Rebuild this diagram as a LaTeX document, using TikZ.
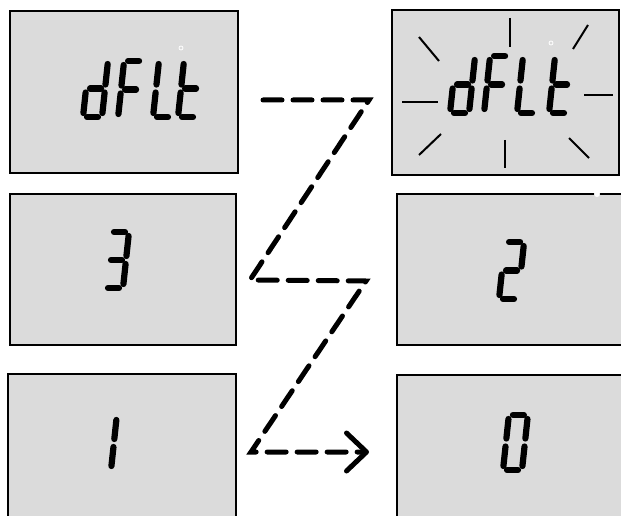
\documentclass[tikz,border=0pt]{standalone}
\usepackage{tikz}
\usepackage{xcolor}
\definecolor{lcdgray}{rgb}{0.86,0.86,0.86}
\usetikzlibrary{arrows.meta}

\tikzset{
  lcdbox/.style={fill=lcdgray,draw,line width=2pt,inner sep=0pt},
  seg/.style={line width=6.2pt,line cap=round,shorten >=4pt,shorten <=4pt},
  ray/.style={line width=2pt},
  chain/.style={line width=5pt,line cap=round,dash pattern=on 19pt off 11pt}
}

\newcommand{\lcddigit}[4]{%
  \begin{scope}[shift={(#1,#2)}]
    \pgfmathsetmacro\lcdk{0.107*#3}
    \pgfmathsetmacro\lcdm{#3/2}
    \coordinate (a1) at (\lcdk,-#3);     \coordinate (a2) at (\lcdk+19,-#3);
    \coordinate (b1) at (\lcdk+19,-#3);  \coordinate (b2) at (\lcdk/2+19,-\lcdm);
    \coordinate (c1) at (\lcdk/2+19,-\lcdm); \coordinate (c2) at (19,0);
    \coordinate (d1) at (0,0);           \coordinate (d2) at (19,0);
    \coordinate (e1) at (0,0);           \coordinate (e2) at (\lcdk/2,-\lcdm);
    \coordinate (f1) at (\lcdk/2,-\lcdm); \coordinate (f2) at (\lcdk,-#3);
    \coordinate (g1) at (\lcdk/2,-\lcdm); \coordinate (g2) at (\lcdk/2+19,-\lcdm);
    \foreach \s in {#4} {\draw[seg] (\s1) -- (\s2);}
  \end{scope}}

\begin{document}
\begin{tikzpicture}[x=1pt,y=-1pt]
\useasboundingbox (0,0) rectangle (621,516);
\clip (0,0) rectangle (621,516);

\node (show) at (124,92) [lcdbox,minimum width=228pt,minimum height=162pt] {};
\node (blink) at (505.5,92.5) [lcdbox,minimum width=227pt,minimum height=164pt] {};
\node (three) at (122.5,269.5) [lcdbox,minimum width=226pt,minimum height=151pt] {};
\node (two) at (510.5,269.5) [lcdbox,minimum width=227pt,minimum height=151pt] {};
\node (one) at (121.75,449.5) [lcdbox,minimum width=227.5pt,minimum height=151pt] {};
\node (zero) at (510.5,450.5) [lcdbox,minimum width=227pt,minimum height=151pt] {};

\lcddigit{83}{117}{57}{b,c,d,e,g}
\lcddigit{118}{118}{57}{a,e,f,g}
\lcddigit{153}{117}{57}{d,e,f}
\lcddigit{178}{117}{57}{d,e,f,g}
\draw[white,line width=0.8pt] (181,48) circle (2pt);

\lcddigit{450}{113}{57}{b,c,d,e,g}
\lcddigit{484}{113}{57}{a,e,f,g}
\lcddigit{517}{113}{57}{d,e,f}
\lcddigit{549}{113}{57}{d,e,f,g}
\draw[white,line width=0.8pt] (551,43) circle (2pt);

\draw[ray] (510,18) -- (510,47);
\draw[ray] (588,25) -- (573,49);
\draw[ray] (584,95) -- (613,95);
\draw[ray] (569,138) -- (589,158);
\draw[ray] (505,140) -- (505,168);
\draw[ray] (441,134) -- (419,155);
\draw[ray] (402,102) -- (438,102);
\draw[ray] (419,37) -- (439,61);

\lcddigit{104}{288}{56}{a,b,c,d,g}
\lcddigit{499}{299}{57}{a,b,d,e,g}
\lcddigit{92}{470}{54}{b,c}
\lcddigit{503}{470}{55}{a,b,c,d,e,f}
\fill[white] (597,194) circle (3pt);

\coordinate (z1) at (263,100);
\coordinate (z2) at (369,100);
\coordinate (z3) at (250,280);
\coordinate (z4) at (366,281);
\coordinate (z5) at (251,452);
\coordinate (z6) at (369,452);

\draw[chain,-{Straight Barb[length=20pt,width=38pt,round]}] (z1) -- (z2) -- (z3) -- (z4) -- (z5) -- (z6);
\end{tikzpicture}
\end{document}
